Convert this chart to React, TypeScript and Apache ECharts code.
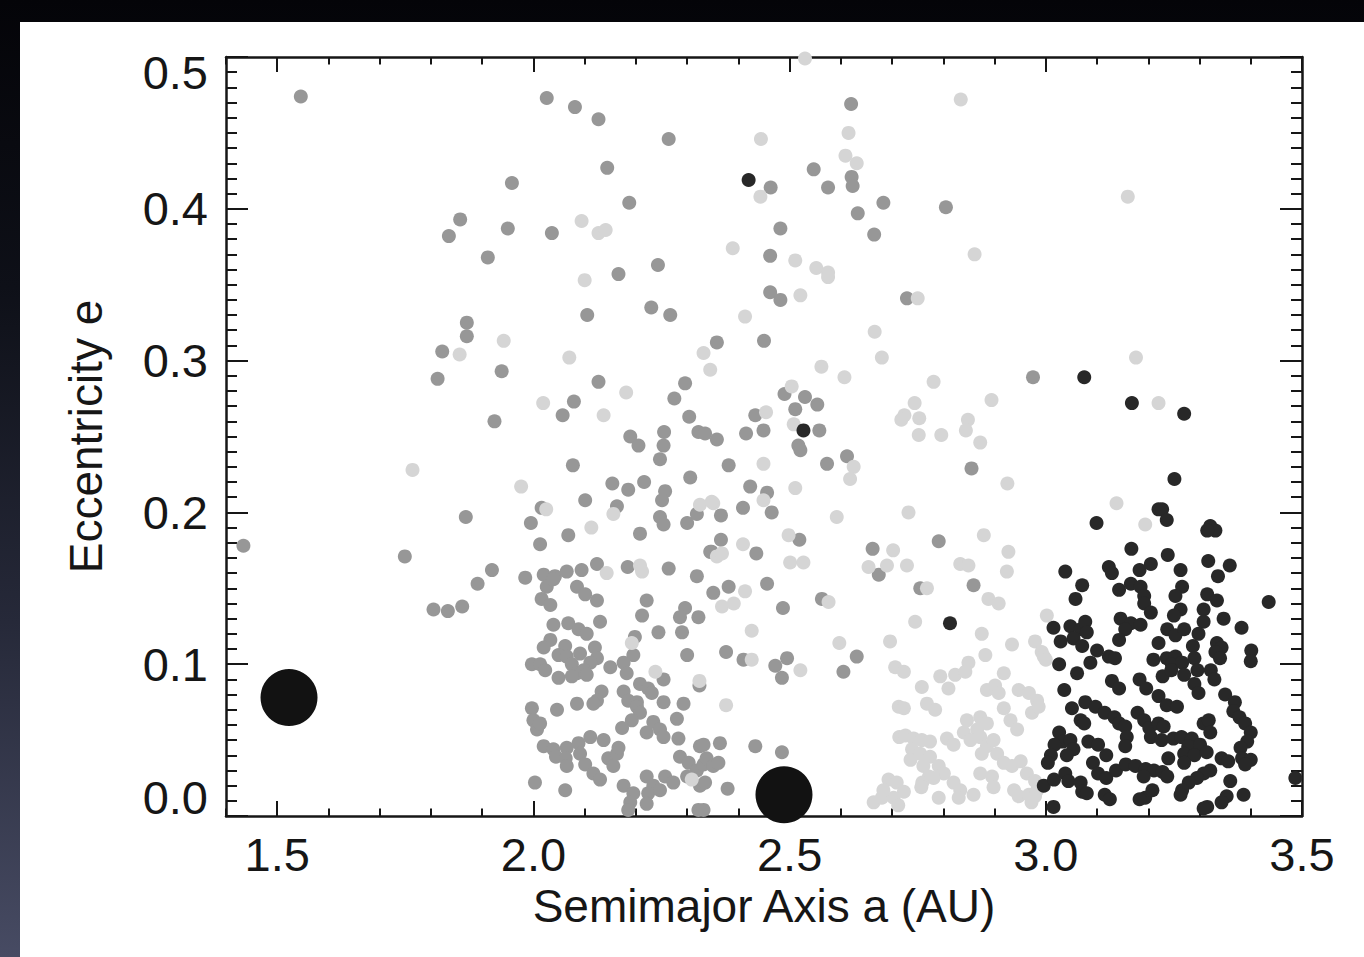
import React, { useEffect, useRef } from 'react';
import * as echarts from 'echarts';

// ---------- axis ranges and tick labels ----------
const xRange = [1.4, 3.5];
const yRange = [0, 0.5];
const xTickLabels = [1.5, 2.0, 2.5, 3.0, 3.5];
const yTickLabels = [0.0, 0.1, 0.2, 0.3, 0.4, 0.5];
const xTitle = 'Semimajor Axis a (AU)';
const yTitle = 'Eccentricity e';

// ---------- data: [semimajor axis a (AU), eccentricity e] ----------
const graySeries: number[][] = [
  [1.546,0.474],[2.026,0.473],[2.081,0.467],[1.958,0.417],[1.857,0.393],[1.835,0.382],[1.950,0.387],[2.036,0.384],
  [1.911,0.368],[2.105,0.330],[1.870,0.325],[1.870,0.316],[1.822,0.306],[1.938,0.293],[1.813,0.288],[2.079,0.273],
  [2.057,0.264],[1.924,0.260],
  [2.127,0.459],[2.264,0.446],[2.620,0.469],[2.547,0.426],[2.463,0.414],[2.575,0.414],[2.621,0.421],[2.623,0.415],
  [2.683,0.404],[2.805,0.401],[2.144,0.427],[2.187,0.404],[2.633,0.397],[2.665,0.383],[2.482,0.387],[2.462,0.369],
  [2.243,0.363],[2.166,0.357],[2.462,0.345],[2.482,0.340],[2.729,0.341],[2.230,0.335],[2.267,0.330],[2.358,0.312],
  [2.450,0.313],[2.127,0.286],[2.296,0.285],[2.275,0.275],[2.490,0.278],[2.530,0.276],[2.511,0.268],[2.554,0.271],
  [2.304,0.263],[2.433,0.264],[2.558,0.254],[2.449,0.254],[2.415,0.252],[2.322,0.253],[2.335,0.252],[2.358,0.248],
  [2.255,0.253],[2.189,0.250],[2.205,0.244],[2.254,0.244],[2.517,0.244],
  [2.975,0.289],
  [1.868,0.197],[1.434,0.178],[1.749,0.171],[1.919,0.162],[1.891,0.153],[1.861,0.138],[1.805,0.136],[1.833,0.135],
  [2.077,0.231],[2.154,0.219],[2.185,0.215],[2.216,0.220],[2.257,0.214],[2.247,0.235],[2.306,0.223],[2.855,0.229],
  [2.016,0.203],[2.101,0.208],[2.163,0.204],[2.251,0.208],[2.247,0.197],[2.254,0.192],[2.300,0.193],[2.319,0.199],
  [1.995,0.193],[2.068,0.185],[2.208,0.186],[2.013,0.179],[2.348,0.174],[2.124,0.166],[2.184,0.164],[2.264,0.163],
  [2.319,0.158],[1.984,0.157],[2.020,0.159],[2.042,0.158],[2.065,0.161],[2.094,0.162],[2.026,0.151],[2.016,0.143],
  [2.033,0.139],[2.085,0.151],[2.101,0.146],[2.124,0.142],[2.039,0.156],[2.221,0.142],[2.212,0.132],[2.296,0.137],
  [2.286,0.131],[2.322,0.131],[2.130,0.128],[2.039,0.126],[2.068,0.127],[2.088,0.123],[2.104,0.120],[2.244,0.121],
  [2.290,0.121],[2.198,0.118],[2.033,0.116],[2.020,0.111],[2.062,0.112],[2.049,0.106],[2.065,0.105],[2.091,0.107],
  [2.120,0.111],[2.124,0.104],[2.111,0.101],[2.195,0.106],[1.997,0.100],[2.013,0.100],[2.023,0.096],[2.075,0.100],
  [2.085,0.094],[2.098,0.096],[2.150,0.098],[2.176,0.101],[2.182,0.094],[2.254,0.090],[2.300,0.106],[2.324,0.086],
  [2.049,0.091],[2.075,0.092],[2.104,0.093],[2.208,0.087],[2.224,0.084],[2.231,0.081],[2.176,0.082],[2.185,0.076],
  [2.202,0.075],[2.133,0.082],[2.124,0.076],[2.117,0.074],[2.085,0.074],[2.046,0.070],[1.997,0.071],[2.000,0.063],
  [2.007,0.057],[2.013,0.061],[2.202,0.072],[2.208,0.068],[2.192,0.063],[2.173,0.058],[2.254,0.075],[2.293,0.074],
  [2.280,0.064],[2.234,0.062],[2.247,0.057],[2.221,0.055],[2.254,0.052],[2.283,0.051],[2.020,0.046],[2.039,0.044],
  [2.065,0.045],[2.088,0.048],[2.111,0.052],[2.137,0.050],[2.044,0.039],[2.063,0.038],[2.091,0.041],[2.101,0.034],
  [2.117,0.028],[2.130,0.024],[2.146,0.038],[2.156,0.033],[2.163,0.041],[2.166,0.045],[2.065,0.033],[2.003,0.022],
  [2.062,0.017],[2.176,0.020],[2.195,0.015],[2.189,0.009],[2.185,0.004],[2.221,0.026],[2.234,0.020],[2.224,0.015],
  [2.221,0.008],[2.257,0.026],[2.273,0.022],[2.247,0.017],[2.286,0.039],[2.303,0.035],[2.319,0.030],[2.332,0.034],
  [2.338,0.038],[2.351,0.033],[2.325,0.046],[2.300,0.026],[2.325,0.020],[2.322,0.004],
  [2.521,0.241],[2.612,0.237],[2.573,0.232],[2.381,0.231],[2.423,0.217],[2.456,0.213],[2.465,0.200],[2.409,0.203],
  [2.366,0.198],[2.519,0.182],[2.366,0.182],[2.345,0.174],[2.435,0.173],[2.662,0.176],[2.674,0.159],[2.381,0.151],
  [2.351,0.147],[2.456,0.153],[2.487,0.137],[2.563,0.143],[2.376,0.108],[2.410,0.103],[2.472,0.099],[2.495,0.104],
  [2.485,0.091],[2.631,0.105],[2.605,0.095],[2.332,0.047],[2.364,0.048],[2.433,0.046],[2.485,0.042],[2.361,0.035],
  [2.335,0.022],[2.379,0.018],[2.332,0.004],
  [2.791,0.181],[2.755,0.150],[2.859,0.152],
];

const lightSeries: number[][] = [
  [2.094,0.392],[2.100,0.353],[1.942,0.313],[1.856,0.304],[2.070,0.302],[2.019,0.272],
  [2.444,0.446],[2.615,0.450],[2.609,0.435],[2.631,0.430],[2.443,0.408],[2.127,0.384],[2.141,0.386],[2.389,0.374],
  [2.511,0.366],[2.552,0.361],[2.575,0.358],[2.575,0.355],[2.521,0.343],[2.750,0.341],[2.413,0.329],[2.666,0.319],
  [2.332,0.305],[2.345,0.294],[2.680,0.302],[2.562,0.296],[2.607,0.289],[2.781,0.286],[2.181,0.279],[2.504,0.283],
  [2.744,0.272],[2.724,0.264],[2.718,0.261],[2.753,0.262],[2.752,0.251],[2.796,0.251],[2.137,0.264],[2.454,0.266],
  [2.508,0.258],[2.530,0.499],
  [2.834,0.472],[3.160,0.408],[2.861,0.370],[3.176,0.302],[3.220,0.272],[2.894,0.274],[2.848,0.261],[2.844,0.254],
  [2.872,0.246],[1.764,0.228],[1.976,0.217],[2.925,0.219],
  [2.025,0.202],[2.156,0.199],[2.325,0.205],[2.351,0.206],[2.113,0.190],[2.143,0.160],[2.208,0.165],[2.212,0.161],
  [2.358,0.171],[2.192,0.114],[2.238,0.095],[2.324,0.089],[2.309,0.024],
  [2.625,0.230],[2.618,0.222],[2.449,0.232],[2.449,0.208],[2.511,0.216],[2.348,0.207],[2.592,0.197],[2.498,0.185],
  [2.368,0.173],[2.409,0.179],[2.501,0.167],[2.527,0.167],[2.702,0.175],[2.654,0.164],[2.690,0.165],[2.413,0.148],
  [2.368,0.138],[2.391,0.140],[2.576,0.141],[2.426,0.122],[2.426,0.103],[2.521,0.096],[2.597,0.114],[2.696,0.115],
  [2.706,0.098],[2.376,0.073],[2.693,0.024],[2.709,0.022],[2.664,0.009],[2.680,0.012],[2.713,0.072],[2.714,0.052],
  [2.732,0.200],[2.879,0.185],[2.927,0.174],[2.729,0.165],[2.833,0.166],[2.849,0.165],[2.924,0.161],[2.768,0.150],
  [2.888,0.143],[2.908,0.140],[2.745,0.128],[2.875,0.120],[2.934,0.113],[3.002,0.132],[2.979,0.115],[2.992,0.108],
  [2.996,0.105],[2.882,0.106],[2.723,0.095],[2.794,0.092],[2.810,0.084],[2.823,0.093],[2.849,0.101],[2.843,0.095],
  [2.758,0.085],[2.918,0.094],[2.885,0.083],[2.901,0.086],[2.908,0.081],[2.947,0.083],[2.967,0.081],[2.983,0.076],
  [2.768,0.074],[2.784,0.070],[2.723,0.071],[2.846,0.063],[2.872,0.065],[2.885,0.061],[2.866,0.057],[2.918,0.071],
  [2.931,0.063],[2.944,0.057],[2.973,0.068],[2.986,0.072],[2.726,0.053],[2.742,0.051],[2.758,0.050],[2.774,0.049],
  [2.807,0.051],[2.820,0.047],[2.840,0.055],[2.853,0.050],[2.872,0.052],[2.885,0.046],[2.898,0.050],[2.875,0.041],
  [2.905,0.041],[2.739,0.044],[2.736,0.037],[2.755,0.041],[2.774,0.039],[2.761,0.033],[2.791,0.033],[2.801,0.028],
  [2.781,0.025],[2.772,0.026],[2.759,0.022],[2.757,0.019],[2.723,0.016],[2.703,0.012],[2.683,0.017],[2.712,0.007],
  [2.791,0.012],[2.820,0.022],[2.833,0.017],[2.830,0.012],[2.859,0.014],[2.872,0.028],[2.895,0.026],[2.898,0.019],
  [2.918,0.035],[2.934,0.033],[2.951,0.036],[2.938,0.017],[2.947,0.013],[2.967,0.014],[2.983,0.017],[2.963,0.028],
  [2.979,0.023],[2.972,0.009],[3.138,0.206],[3.194,0.192],[3.000,0.103],[2.979,0.013],
];

const darkSeries: number[][] = [
  [2.420,0.419],[2.527,0.254],[3.075,0.289],[3.168,0.272],[3.270,0.265],[2.813,0.127],
  [3.099,0.193],[3.220,0.202],[3.167,0.176],[3.038,0.161],[3.123,0.164],[3.129,0.160],[3.183,0.162],[3.205,0.166],
  [3.071,0.152],[3.058,0.143],[3.143,0.149],[3.166,0.153],[3.185,0.151],[3.192,0.145],[3.192,0.140],[3.015,0.124],
  [3.048,0.125],[3.068,0.123],[3.077,0.128],[3.080,0.121],[3.054,0.117],[3.071,0.112],[3.029,0.115],[3.146,0.130],
  [3.166,0.127],[3.185,0.126],[3.205,0.134],[3.155,0.123],[3.143,0.116],[3.100,0.109],[3.123,0.105],[3.135,0.104],
  [3.026,0.100],[3.087,0.101],[3.061,0.094],[3.129,0.089],[3.143,0.084],[3.183,0.090],[3.196,0.084],[3.036,0.083],
  [3.051,0.071],[3.068,0.063],[3.075,0.061],[3.077,0.075],[3.097,0.072],[3.115,0.068],[3.134,0.065],[3.143,0.061],
  [3.179,0.068],[3.192,0.063],[3.202,0.058],[3.205,0.052],[3.155,0.059],[3.158,0.052],[3.155,0.046],[3.026,0.055],
  [3.033,0.049],[3.017,0.047],[3.010,0.040],[3.004,0.035],[3.048,0.050],[3.054,0.044],[3.041,0.040],[3.083,0.049],
  [3.102,0.047],[3.118,0.040],[3.092,0.035],[3.102,0.028],[3.118,0.025],[3.137,0.030],[3.156,0.034],[3.175,0.033],
  [3.195,0.031],[3.211,0.030],[3.191,0.026],[2.996,0.020],[3.016,0.024],[3.038,0.028],[3.044,0.023],[3.068,0.022],
  [3.071,0.016],[3.115,0.014],[3.125,0.011],[3.194,0.012],[3.208,0.017],[3.015,0.006],
  [3.251,0.222],[3.227,0.202],[3.236,0.195],[3.321,0.191],[3.331,0.188],[3.315,0.188],[3.238,0.172],[3.317,0.168],
  [3.359,0.165],[3.263,0.162],[3.266,0.151],[3.336,0.158],[3.435,0.141],[3.253,0.145],[3.263,0.136],[3.250,0.132],
  [3.237,0.123],[3.253,0.119],[3.270,0.123],[3.315,0.146],[3.334,0.142],[3.308,0.136],[3.308,0.128],[3.298,0.120],
  [3.347,0.130],[3.382,0.124],[3.220,0.114],[3.334,0.114],[3.343,0.111],[3.331,0.108],[3.340,0.104],[3.287,0.112],
  [3.290,0.104],[3.296,0.096],[3.401,0.109],[3.400,0.102],[3.210,0.103],[3.236,0.104],[3.253,0.105],[3.246,0.100],
  [3.266,0.101],[3.270,0.093],[3.228,0.092],[3.245,0.096],[3.290,0.087],[3.298,0.081],[3.322,0.096],[3.329,0.090],
  [3.350,0.080],[3.369,0.075],[3.366,0.069],[3.378,0.065],[3.389,0.061],[3.400,0.055],[3.393,0.049],[3.380,0.045],
  [3.383,0.038],[3.400,0.037],[3.389,0.034],[3.220,0.079],[3.236,0.073],[3.256,0.072],[3.220,0.061],[3.230,0.059],
  [3.226,0.050],[3.249,0.051],[3.265,0.052],[3.285,0.051],[3.278,0.046],[3.301,0.047],[3.308,0.061],[3.318,0.063],
  [3.321,0.055],[3.270,0.041],[3.290,0.040],[3.314,0.042],[3.239,0.038],[3.270,0.035],[3.343,0.038],[3.356,0.036],
  [3.228,0.029],[3.237,0.026],[3.321,0.030],[3.308,0.028],[3.295,0.025],[3.279,0.022],[3.266,0.017],[3.263,0.014],
  [3.360,0.023],[3.353,0.013],[3.343,0.009],[3.315,0.006],[3.386,0.014],[3.487,0.025],[3.080,0.015],[3.183,0.011],
  [3.308,0.005],
];

const bigBodies: number[][] = [
  [1.523, 0.078],
  [2.489, 0.014],
];

// ---------- style ----------
const FONT = '"Liberation Sans", Arial, Helvetica, sans-serif';
const INK = '#161616';
const TICK_FONT = 47;
const TITLE_FONT = 46;

function steps(min: number, max: number, step: number): number[] {
  const out: number[] = [];
  const n = Math.round((max - min) / step);
  for (let i = 0; i <= n; i++) out.push(+(min + i * step).toFixed(4));
  return out;
}

const xMinorTicks = steps(xRange[0], xRange[1], 0.1);
const yMinorTicks = steps(yRange[0], yRange[1], 0.01);

function xAxisCfg(position: 'bottom' | 'top', ticks: number[], len: number, withLabels: boolean, withLine: boolean) {
  return {
    type: 'value',
    gridIndex: 0,
    position,
    min: xRange[0],
    max: xRange[1],
    splitLine: { show: false },
    axisLine: { show: withLine, onZero: false, lineStyle: { color: INK, width: 2.5 } },
    axisTick: { show: true, inside: true, length: len, customValues: ticks, lineStyle: { color: INK, width: 2 } },
    axisLabel: withLabels
      ? {
          show: true,
          customValues: xTickLabels,
          formatter: (v: number) => v.toFixed(1),
          fontSize: TICK_FONT,
          fontFamily: FONT,
          color: INK,
          margin: 15,
        }
      : { show: false },
    name: withLabels ? xTitle : '',
    nameLocation: 'middle',
    nameGap: 67,
    nameTextStyle: { fontSize: TITLE_FONT, fontFamily: FONT, color: INK },
  };
}

function yAxisCfg(position: 'left' | 'right', ticks: number[], len: number, withLabels: boolean, withLine: boolean) {
  const rs = { fontSize: TICK_FONT, fontFamily: FONT, color: INK };
  return {
    type: 'value',
    gridIndex: 0,
    position,
    min: yRange[0],
    max: yRange[1],
    splitLine: { show: false },
    axisLine: { show: withLine, onZero: false, lineStyle: { color: INK, width: 2.5 } },
    axisTick: { show: true, inside: true, length: len, customValues: ticks, lineStyle: { color: INK, width: 2 } },
    axisLabel: withLabels
      ? {
          show: true,
          customValues: yTickLabels,
          formatter: (v: number) => {
            const s = v.toFixed(1);
            if (v >= yRange[1] - 1e-9) return `{t|${s}}`;
            if (v <= yRange[0] + 1e-9) return `{b|${s}}`;
            return s;
          },
          rich: {
            t: { ...rs, padding: [30, 0, 0, 0] },
            b: { ...rs, padding: [0, 0, 38, 0] },
          },
          fontSize: TICK_FONT,
          fontFamily: FONT,
          color: INK,
          margin: 18,
        }
      : { show: false },
    name: withLabels ? yTitle : '',
    nameLocation: 'middle',
    nameGap: 117,
    nameTextStyle: { fontSize: TITLE_FONT, fontFamily: FONT, color: INK },
  };
}

function dots(name: string, data: number[][], color: string, size: number, z: number) {
  return {
    name,
    type: 'scatter',
    xAxisIndex: 0,
    yAxisIndex: 0,
    data,
    symbol: 'circle',
    symbolSize: size,
    itemStyle: { color, opacity: 1 },
    emphasis: { disabled: true },
    z,
  };
}

export default function App() {
  const ref = useRef<HTMLDivElement>(null);

  useEffect(() => {
    if (!ref.current) return;
    const chart = echarts.init(ref.current, null, { renderer: 'svg' });
    chart.setOption({
      animation: false,
      backgroundColor: 'transparent',
      grid: { left: 226, top: 57, width: 1076, height: 759, containLabel: false, outerBoundsMode: 'none' },
      xAxis: [
        xAxisCfg('bottom', xTickLabels, 15, true, true),
        xAxisCfg('bottom', xMinorTicks, 7.5, false, false),
        xAxisCfg('top', xTickLabels, 15, false, true),
        xAxisCfg('top', xMinorTicks, 7.5, false, false),
      ],
      yAxis: [
        yAxisCfg('left', yTickLabels, 22, true, true),
        yAxisCfg('left', yMinorTicks, 11, false, false),
        yAxisCfg('right', yTickLabels, 22, false, true),
        yAxisCfg('right', yMinorTicks, 11, false, false),
      ],
      series: [
        dots('medium', graySeries, '#979797', 14, 2),
        dots('light', lightSeries, '#d5d5d5', 14, 3),
        dots('dark', darkSeries, '#282828', 14, 4),
        dots('bodies', bigBodies, '#121212', 57, 5),
      ],
    });
    return () => chart.dispose();
  }, []);

  return (
    <div
      style={{
        position: 'fixed',
        left: 0,
        top: 0,
        width: 1364,
        height: 957,
        background: 'linear-gradient(180deg, #040408 0%, #0e1018 30%, #262939 65%, #474b63 100%)',
        overflow: 'hidden',
      }}
    >
      <div style={{ position: 'absolute', left: 20, top: 22, right: 0, bottom: 0, background: '#ffffff' }} />
      <div ref={ref} style={{ position: 'absolute', left: 0, top: 0, width: 1364, height: 957 }} />
    </div>
  );
}
